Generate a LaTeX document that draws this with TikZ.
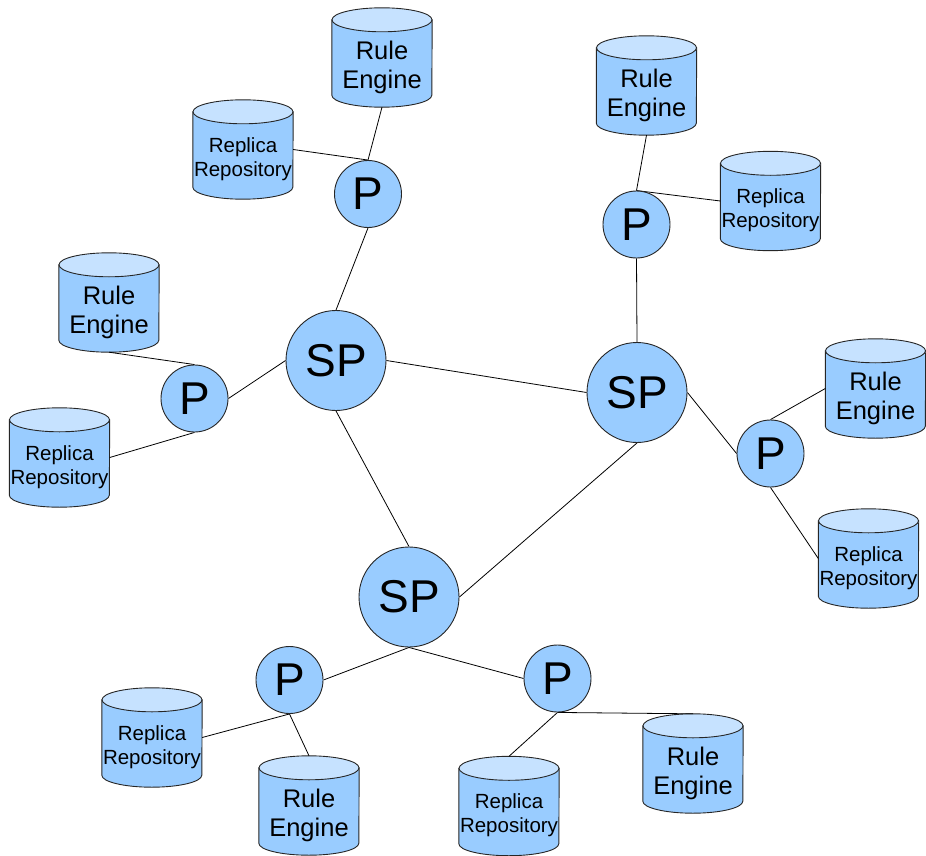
\documentclass[tikz,border=0pt]{standalone}
\usepackage{fontspec}
\setmainfont{Liberation Sans}
\usetikzlibrary{backgrounds}

\definecolor{nodeblue}{HTML}{99CCFF}
\definecolor{toplight}{HTML}{C6E2FF}
\definecolor{outline}{HTML}{262626}

\tikzset{
  drumbox/.style={rectangle, draw=none, inner sep=0pt, minimum width=100pt, minimum height=99pt},
  retext/.style={align=center, inner sep=0pt, font=\fontsize{25.5}{29}\selectfont},
  rrtext/.style={align=center, inner sep=0pt, font=\fontsize{20.5}{24}\selectfont},
  peer/.style={circle, draw=outline, line width=0.9pt, fill=nodeblue, inner sep=0pt,
    minimum size=67pt, font=\fontsize{46}{50}\selectfont},
  superpeer/.style={peer, minimum size=100pt},
  drumside/.style={draw=outline, line width=0.9pt, fill=nodeblue},
  drumtop/.style={draw=outline, line width=0.9pt, fill=toplight},
  link/.style={draw=black, line width=0.8pt}
}

% database drum drawn around an (empty) box node
\newcommand\drum[1]{%
  \filldraw[drumside] ([yshift=-12pt]#1.north west) -- ([yshift=12pt]#1.south west)
    arc[start angle=180, end angle=360, x radius=50pt, y radius=12pt]
    -- ([yshift=-12pt]#1.north east) -- cycle;
  \filldraw[drumtop] ([yshift=-12pt]#1.north) ellipse[x radius=50pt, y radius=12pt];
}

\begin{document}
\begin{tikzpicture}[x=1pt, y=-1pt]
\useasboundingbox (0,0) rectangle (926,856);

% storage drums
\node[drumbox] (re1) at (382,57.5) {};
\node[drumbox] (rr1) at (243,149.5) {};
\node[drumbox] (re2) at (646.5,85.5) {};
\node[drumbox] (rr2) at (770.5,201) {};
\node[drumbox] (re3) at (109,302.5) {};
\node[drumbox] (rr3) at (59.5,457.5) {};
\node[drumbox] (re4) at (875.5,388.5) {};
\node[drumbox] (rr4) at (868.5,558.5) {};
\node[drumbox] (rr5) at (152,737.5) {};
\node[drumbox] (re5) at (309,805.5) {};
\node[drumbox] (rr6) at (509,806) {};
\node[drumbox] (re6) at (693,763.5) {};

% drum labels
\node[retext] (re1t) at ([yshift=-10pt]re1.center) {Rule\\Engine};
\node[rrtext] (rr1t) at ([yshift=-9.5pt]rr1.center) {Replica\\Repository};
\node[retext] (re2t) at ([yshift=-10pt]re2.center) {Rule\\Engine};
\node[rrtext] (rr2t) at ([yshift=-9.5pt]rr2.center) {Replica\\Repository};
\node[retext] (re3t) at ([yshift=-10pt]re3.center) {Rule\\Engine};
\node[rrtext] (rr3t) at ([yshift=-9.5pt]rr3.center) {Replica\\Repository};
\node[retext] (re4t) at ([yshift=-10pt]re4.center) {Rule\\Engine};
\node[rrtext] (rr4t) at ([yshift=-9.5pt]rr4.center) {Replica\\Repository};
\node[rrtext] (rr5t) at ([yshift=-9.5pt]rr5.center) {Replica\\Repository};
\node[retext] (re5t) at ([yshift=-10pt]re5.center) {Rule\\Engine};
\node[rrtext] (rr6t) at ([yshift=-9.5pt]rr6.center) {Replica\\Repository};
\node[retext] (re6t) at ([yshift=-10pt]re6.center) {Rule\\Engine};

% peers and super peers
\node[peer] (p1) at (368,194) {P};
\node[peer] (p2) at (636.5,224.5) {P};
\node[peer] (p3) at (194.5,398.5) {P};
\node[peer] (p4) at (770.5,453.5) {P};
\node[peer] (p5) at (289.5,680) {P};
\node[peer] (p6) at (557.5,678.5) {P};
\node[superpeer] (sp1) at (336,360.5) {SP};
\node[superpeer] (sp2) at (637,392.5) {SP};
\node[superpeer] (sp3) at (409,597) {SP};

\begin{pgfonlayer}{background}
  \drum{re1} \drum{rr1} \drum{re2} \drum{rr2}
  \drum{re3} \drum{rr3} \drum{re4} \drum{rr4}
  \drum{rr5} \drum{re5} \drum{rr6} \drum{re6}

  \draw[link] (re1.south) -- (p1.north);
  \draw[link] (rr1.east) -- (p1.north);
  \draw[link] (p1.south) -- (sp1.north);
  \draw[link] (re2.south) -- (p2.north);
  \draw[link] (rr2.west) -- (p2.north);
  \draw[link] (p2.south) -- (sp2.north);
  \draw[link] (re3.south) -- (p3.north);
  \draw[link] (rr3.east) -- (p3.south);
  \draw[link] (p3.east) -- (sp1.west);
  \draw[link] (sp1.east) -- (sp2.west);
  \draw[link] (sp2.east) -- (p4.west);
  \draw[link] (p4.north) -- (re4.west);
  \draw[link] (p4.south) -- (rr4.west);
  \draw[link] (sp1.south) -- (sp3.north);
  \draw[link] (sp3.east) -- (sp2.south);
  \draw[link] (sp3.south) -- (p5.east);
  \draw[link] (p5.south) -- (rr5.east);
  \draw[link] (p5.south) -- (re5.north);
  \draw[link] (sp3.south) -- (p6.west);
  \draw[link] (p6.south) -- (rr6.north);
  \draw[link] (p6.south) -- (re6.north);
\end{pgfonlayer}
\end{tikzpicture}
\end{document}
